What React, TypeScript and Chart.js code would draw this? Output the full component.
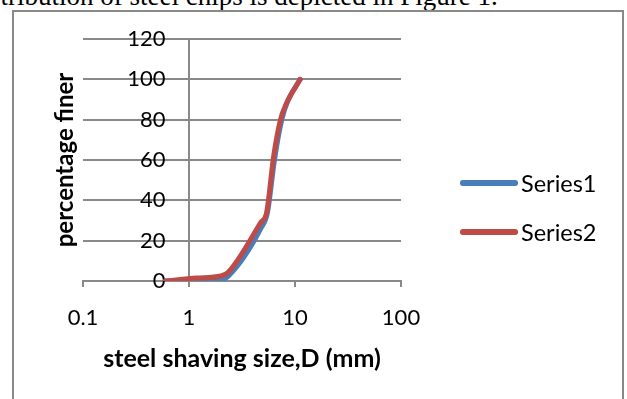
import React, { useEffect, useRef } from 'react';
import { Chart, registerables } from 'chart.js';

Chart.register(...registerables);

// ---- data ----
const sizesSeries1 = [0.6, 1.18, 2.0, 2.36, 4.75, 5.5, 6.4, 7.5, 8.5, 11.2];
const finerSeries1 = [0, 0, 0.5, 2.5, 26, 34, 60, 80, 89, 100];
const sizesSeries2 = [0.6, 1.18, 2.0, 2.36, 4.75, 5.4, 6.3, 7.3, 8.3, 11.2];
const finerSeries2 = [0, 1.5, 2.5, 4.5, 29, 34, 62, 80, 88, 100];
const seriesLabels = ['Series1', 'Series2'];
const xTickValues = [0.1, 1, 10, 100];
const yTickValues = [0, 20, 40, 60, 80, 100, 120];
const xTitle = 'steel shaving size,D (mm)';
const yTitle = 'percentage finer';
const caption = 'distribution of steel chips is depicted in Figure 1.';

const FONT = 'Lato';
const GRAY = '#898989';
const BLUE = '#4A7EBB';
const RED = '#BE4B48';
const seriesColors = [BLUE, RED];
const CW = 608;
const CH = 390;

export default function App() {
  const ref = useRef<HTMLCanvasElement | null>(null);

  useEffect(() => {
    const canvas = ref.current;
    if (!canvas) return;

    const tickFont = { family: FONT, size: 22 };
    const xTitleFont = { family: FONT, size: 25, weight: 'bold' as const, lineHeight: 0.8 };
    const yTitleFont = { family: FONT, size: 24, weight: 'bold' as const, lineHeight: 0.8 };

    const makeSet = (i: number, xs: number[], ys: number[]) => ({
      label: seriesLabels[i],
      data: xs.map((x, k) => ({ x, y: ys[k] })),
      borderColor: seriesColors[i],
      backgroundColor: seriesColors[i],
      borderWidth: 5,
      pointRadius: 0,
      borderCapStyle: 'round',
      borderJoinStyle: 'round',
      cubicInterpolationMode: 'monotone',
      order: 1 - i,
      xAxisID: 'x',
      yAxisID: 'y',
    });

    const chart = new Chart(canvas, {
      type: 'line',
      data: {
        datasets: [makeSet(0, sizesSeries1, finerSeries1), makeSet(1, sizesSeries2, finerSeries2)],
      },
      options: {
        animation: false,
        responsive: false,
        maintainAspectRatio: false,
        events: [],
        layout: { padding: { left: 40, top: 27, bottom: 27, right: 221 } },
        plugins: {
          legend: { display: false },
          tooltip: { enabled: false },
        },
        scales: {
          x: {
            type: 'logarithmic',
            position: 'bottom',
            min: 0.1,
            max: 100,
            afterBuildTicks: (s: any) => {
              s.ticks = xTickValues.map((v) => ({ value: v }));
            },
            ticks: {
              callback: (v: any) => String(v),
              font: tickFont,
              color: '#000',
              padding: 17.8,
              maxRotation: 0,
              autoSkip: false,
            },
            grid: {
              drawOnChartArea: true,
              drawTicks: true,
              tickLength: 6,
              lineWidth: 2,
              tickWidth: 2,
              tickColor: GRAY,
              color: (c: any) => (c.tick && c.tick.value === 1 ? GRAY : 'rgba(0,0,0,0)'),
            },
            border: { display: true, color: GRAY, width: 2 },
            title: {
              display: true,
              text: xTitle,
              font: xTitleFont,
              color: '#000',
              padding: { top: 0, bottom: 6 },
            },
          },
          y: {
            type: 'linear',
            position: 'left',
            min: 0,
            max: 120,
            afterBuildTicks: (s: any) => {
              s.ticks = yTickValues.map((v) => ({ value: v }));
            },
            ticks: { display: false },
            grid: { color: GRAY, lineWidth: 2, drawTicks: false },
            border: { display: false },
            title: {
              display: true,
              text: yTitle,
              font: yTitleFont,
              color: '#000',
              padding: { top: 1.4, bottom: 8.4 },
            },
          },
          y2: {
            type: 'linear',
            axis: 'y',
            position: { x: 0.6 },
            min: 0,
            max: 120,
            afterBuildTicks: (s: any) => {
              s.ticks = yTickValues.map((v) => ({ value: v }));
            },
            ticks: { font: tickFont, color: '#000', padding: 0 },
            grid: { display: false, drawOnChartArea: false, drawTicks: false },
            border: { display: false },
          },
        },
      } as any,
    });
    return () => chart.destroy();
  }, []);

  return (
    <div
      style={{
        position: 'absolute',
        left: 0,
        top: 0,
        width: 627,
        height: 399,
        overflow: 'hidden',
        background: '#fff',
      }}
    >
      <div
        style={{
          position: 'absolute',
          left: -31,
          top: -17,
          fontFamily: '"Liberation Serif", serif',
          fontSize: 27,
          lineHeight: '27px',
          whiteSpace: 'nowrap',
          color: '#000',
        }}
      >
        {caption}
      </div>
      <div
        style={{
          position: 'absolute',
          left: 12,
          top: 10,
          width: CW,
          height: CH,
          border: `2px solid ${GRAY}`,
          background: '#fff',
        }}
      >
        <canvas ref={ref} width={CW} height={CH} style={{ display: 'block', width: CW, height: CH }} />
      </div>
      {seriesLabels.map((label, i) => (
        <div key={label} style={{ position: 'absolute', left: 460, top: 183 + i * 49 - 11, height: 22 }}>
          <div
            style={{
              position: 'absolute',
              left: 0,
              top: 8.25,
              width: 58,
              height: 5.5,
              borderRadius: 2.75,
              background: seriesColors[i],
            }}
          />
          <span
            style={{
              position: 'absolute',
              left: 61,
              top: 0,
              fontFamily: FONT,
              fontSize: 23.5,
              lineHeight: '22px',
              whiteSpace: 'nowrap',
              color: '#000',
            }}
          >
            {label}
          </span>
        </div>
      ))}
    </div>
  );
}
